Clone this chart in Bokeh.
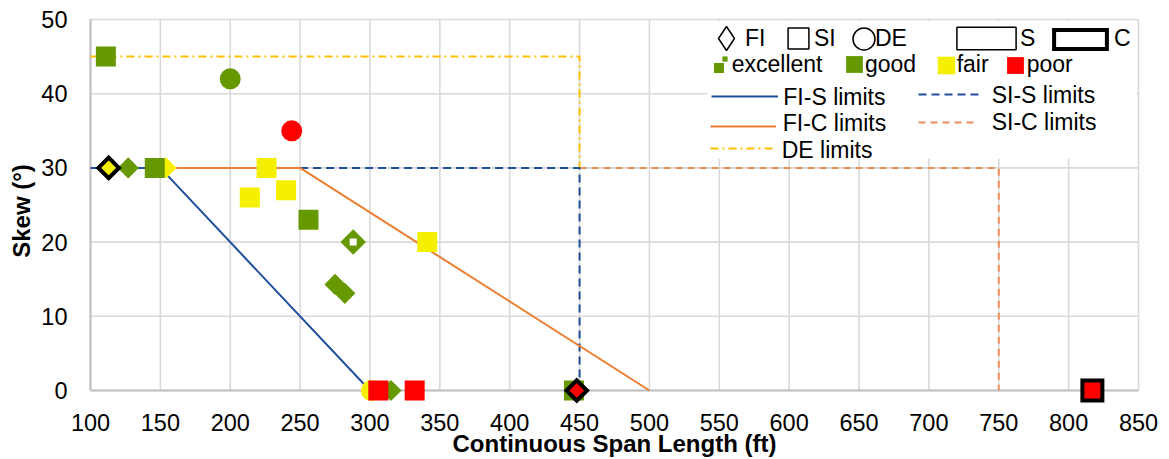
import math
import numpy as np
from bokeh.plotting import figure
from bokeh.models import Range1d, FixedTicker, Legend, LegendItem, BoxAnnotation, ColumnDataSource
from bokeh.core.properties import value
from bokeh.embed import file_html
from bokeh.resources import INLINE

# ---------------- data ----------------
x_ticks = [100, 150, 200, 250, 300, 350, 400, 450, 500, 550, 600, 650, 700, 750, 800, 850]
y_ticks = [0, 10, 20, 30, 40, 50]

span = [111, 200, 244, 127, 154, 146, 113, 214, 226, 240, 256, 288, 275, 282, 341,
        301, 315, 306, 332, 446, 448, 817]
skew = [45, 42, 35, 30, 30, 30, 30, 26, 30, 27, 23, 20, 14.3, 13.1, 20,
        0, 0, 0, 0, 0, 0, 0]
joint = ["SI", "DE", "DE", "FI", "FI", "SI", "FI", "SI", "SI", "SI", "SI", "FI", "FI", "FI", "SI",
         "DE", "FI", "SI", "SI", "SI", "FI", "SI"]
conn = ["S", "S", "S", "S", "S", "S", "C", "S", "S", "S", "S", "S", "S", "S", "S",
        "S", "S", "S", "S", "S", "C", "C"]
cond = ["good", "good", "poor", "good", "fair", "good", "fair", "fair", "fair", "fair", "good",
        "excellent", "good", "good", "fair", "fair", "good", "poor", "poor", "good", "poor", "poor"]

fis_span = [100, 150, 300]
fis_skew = [30, 30, 0]
fic_span = [150, 250, 500]
fic_skew = [30, 30, 0]
sis_span = [250, 450, 450]
sis_skew = [30, 30, 0]
sic_span = [450, 750, 750]
sic_skew = [30, 30, 0]
de_span = [100, 450, 450]
de_skew = [45, 45, 30]

# ---------------- styles ----------------
GREEN = "#669900"
COND_COLOR = {"excellent": GREEN, "good": GREEN, "fair": "#f5f000", "poor": "#ff0000"}
BLUE = "#1f4e9e"
ORANGE = "#ed7d31"
ORANGE_L = "#f08c5a"
GOLD = "#ffc000"
FONT = "Liberation Sans"
LEG_FS = "23px"

W, H = 1169, 459
PX0, PX1 = 90, 1138      # pixel of first / last x tick
PY0, PY1 = 390, 19       # pixel of first / last y tick
FL, FR, FT, FB = 87, 1141, 16, 405   # frame edges

sx = (PX1 - PX0) / (x_ticks[-1] - x_ticks[0])
sy = (PY0 - PY1) / (y_ticks[-1] - y_ticks[0])
xr = Range1d(x_ticks[0] - (PX0 - FL) / sx, x_ticks[-1] + (FR - PX1) / sx)
yr = Range1d(y_ticks[0] - (FB - PY0) / sy, y_ticks[-1] + (PY1 - FT) / sy)


def xdata(px):
    return x_ticks[0] + (px - PX0) / sx


def ydata(py):
    return y_ticks[0] + (PY0 - py) / sy


p = figure(width=W, height=H, x_range=xr, y_range=yr, output_backend="svg",
           toolbar_location=None, min_border_left=FL, min_border_right=W - FR,
           min_border_top=FT, min_border_bottom=H - FB,
           background_fill_color="white", border_fill_color="white",
           outline_line_color=None)
p.xgrid.visible = False
p.ygrid.visible = False

# grid lines from tick arrays
nx, ny = len(x_ticks), len(y_ticks)
p.segment(x0=x_ticks, y0=[y_ticks[0]] * nx, x1=x_ticks, y1=[y_ticks[-1]] * nx,
          line_color="#d9d9d9", line_width=1.6, level="underlay")
p.segment(x0=[x_ticks[0]] * ny, y0=y_ticks, x1=[x_ticks[-1]] * ny, y1=y_ticks,
          line_color="#d9d9d9", line_width=1.6, level="underlay")
p.segment(x0=[x_ticks[0], x_ticks[0]], y0=[y_ticks[0], y_ticks[0]],
          x1=[x_ticks[0], x_ticks[-1]], y1=[y_ticks[-1], y_ticks[0]],
          line_color="#bfbfbf", line_width=2, level="underlay")

# axes
for ax in (p.xaxis[0], p.yaxis[0]):
    ax.axis_line_color = None
    ax.major_tick_line_color = None
    ax.minor_tick_line_color = None
    ax.major_tick_out = 0
    ax.major_tick_in = 0
    ax.major_label_text_font = FONT
    ax.major_label_text_font_size = "23.5px"
    ax.major_label_text_color = "black"
    ax.axis_label_text_font = FONT
    ax.axis_label_text_font_size = "24px"
    ax.axis_label_text_font_style = "bold"
    ax.axis_label_text_color = "black"
p.xaxis.ticker = FixedTicker(ticks=x_ticks)
p.yaxis.ticker = FixedTicker(ticks=y_ticks)
p.xaxis.axis_label = "Continuous Span Length (ft)"
p.yaxis.axis_label = "Skew (°)"
p.xaxis.major_label_standoff = 8
p.xaxis.axis_label_standoff = -4
p.yaxis.major_label_standoff = 20
p.yaxis.axis_label_standoff = 3

# limit lines
r_de = p.line(de_span, de_skew, line_color=GOLD, line_width=2, line_dash="8 4 2 4")
r_sic = p.line(sic_span, sic_skew, line_color=ORANGE_L, line_width=2, line_dash="7 5")
r_sis = p.line(sis_span, sis_skew, line_color=BLUE, line_width=2, line_dash="8 5")
r_fic = p.line(fic_span, fic_skew, line_color=ORANGE, line_width=2)
r_fis = p.line(fis_span, fis_skew, line_color=BLUE, line_width=2)

# markers
MARK = {"FI": ("square", math.pi / 4), "SI": ("square", 0.0), "DE": ("circle", 0.0)}
SIZE = {("FI", "S"): 15, ("FI", "C"): 14.5, ("SI", "S"): 20, ("SI", "C"): 20,
        ("DE", "S"): 21, ("DE", "C"): 21}
n = len(span)
for j, c in [("DE", "S"), ("FI", "S"), ("SI", "S"), ("DE", "C"), ("FI", "C"), ("SI", "C")]:
    idx = [i for i in range(n) if joint[i] == j and conn[i] == c]
    if not idx:
        continue
    src = ColumnDataSource(dict(
        x=[span[i] for i in idx], y=[skew[i] for i in idx],
        color=[COND_COLOR[cond[i]] for i in idx],
        size=[18 if cond[i] == "excellent" else SIZE[(j, c)] for i in idx]))
    mk, ang = MARK[j]
    if c == "C":
        p.scatter("x", "y", source=src, marker=mk, angle=ang, size="size",
                  fill_color="color", line_color="black", line_width=4, line_join="miter")
    else:
        p.scatter("x", "y", source=src, marker=mk, angle=ang, size="size",
                  fill_color="color", line_color=None)
    ex = [i for i in idx if cond[i] == "excellent"]
    if ex:
        p.scatter(x=[span[i] for i in ex], y=[skew[i] for i in ex], marker="square",
                  size=7, fill_color="white", line_color=None)

# ---------------- legend ----------------
p.add_layout(BoxAnnotation(left=xdata(707), right=xdata(1136), top=ydata(20.5),
                           bottom=ydata(158), fill_color="white", fill_alpha=1,
                           line_color=None))

NAN = np.array([np.nan])


def dummy(marker, **kw):
    return p.scatter(x=NAN, y=NAN, marker=marker, **kw)


def _legend(rends, label, left, top, gw, gh, fs):
    lg = Legend(items=[LegendItem(label=value(label), renderers=rends)],
                location=(float(left - FL), float(FB - (top + gh))),
                orientation="horizontal", glyph_width=int(gw), glyph_height=int(gh),
                label_height=int(gh), label_width=1, label_standoff=0,
                padding=0, margin=0, spacing=0, border_line_color=None,
                background_fill_alpha=0, label_text_font=FONT,
                label_text_font_size=fs, label_text_color="black")
    p.add_layout(lg)


def glyph_at(rends, cx, cy, gw, gh):
    gw, gh = int(round(gw)), int(round(gh))
    _legend(rends, "", cx - gw / 2.0, cy - gh / 2.0, gw, gh, "1px")


def marker_at(rend, cx, cy, size):
    b = size / 0.4
    glyph_at([rend], cx, cy, b, b)


ghost = dummy("square", fill_alpha=0, line_alpha=0)


def text_at(label, tx, cy):
    gh = 28
    _legend([ghost], label, tx - 1, cy - gh / 2.0, 1, gh, LEG_FS)


hollow = dict(fill_color="white", line_color="black", line_width=1.5)
marker_at(dummy("diamond", **hollow), 726.3, 37.7, 24)
text_at("FI", 745, 38)
marker_at(dummy("square", **hollow), 798.3, 38, 21)
text_at("SI", 814, 38)
marker_at(dummy("circle", **hollow), 863.3, 38, 22)
text_at("DE", 875, 38)
q_s = p.quad(left=NAN, right=NAN, top=NAN, bottom=NAN, fill_color="white",
             line_color="black", line_width=1.5)
q_c = p.quad(left=NAN, right=NAN, top=NAN, bottom=NAN, fill_color="white",
             line_color="black", line_width=4, line_join="miter")
glyph_at([q_s], 986.3, 37.8, 59.3 / 0.8, 22.3 / 0.8)
text_at("S", 1020, 38)
glyph_at([q_c], 1080, 39, 52.6 / 0.8, 19.4 / 0.8)
text_at("C", 1114, 38)

green_blk = dummy("square", fill_color=GREEN, line_color=None)
marker_at(green_blk, 718.5, 67.5, 10)
marker_at(green_blk, 724.7, 58.6, 5.2)
text_at("excellent", 731.7, 64.5)
marker_at(dummy("square", fill_color=COND_COLOR["good"], line_color=None), 854.3, 63.8, 17)
text_at("good", 865, 64.5)
marker_at(dummy("square", fill_color=COND_COLOR["fair"], line_color=None), 945.5, 65, 17.5)
text_at("fair", 956.7, 64.5)
marker_at(dummy("square", fill_color=COND_COLOR["poor"], line_color=None), 1015, 65, 17)
text_at("poor", 1026.7, 64.5)

glyph_at([r_fis], 744, 96, 67, 4)
text_at("FI-S limits", 783.3, 97)
glyph_at([r_sis], 950.8, 94, 65, 4)
text_at("SI-S limits", 991.7, 95)
glyph_at([r_fic], 743, 126, 66, 4)
text_at("FI-C limits", 782.7, 123.5)
glyph_at([r_sic], 947.5, 121.7, 59, 4)
text_at("SI-C limits", 991.7, 122.5)
glyph_at([r_de], 743, 148.3, 66, 4)
text_at("DE limits", 781.7, 150)

open("out.html", "w").write(file_html(p, INLINE))
